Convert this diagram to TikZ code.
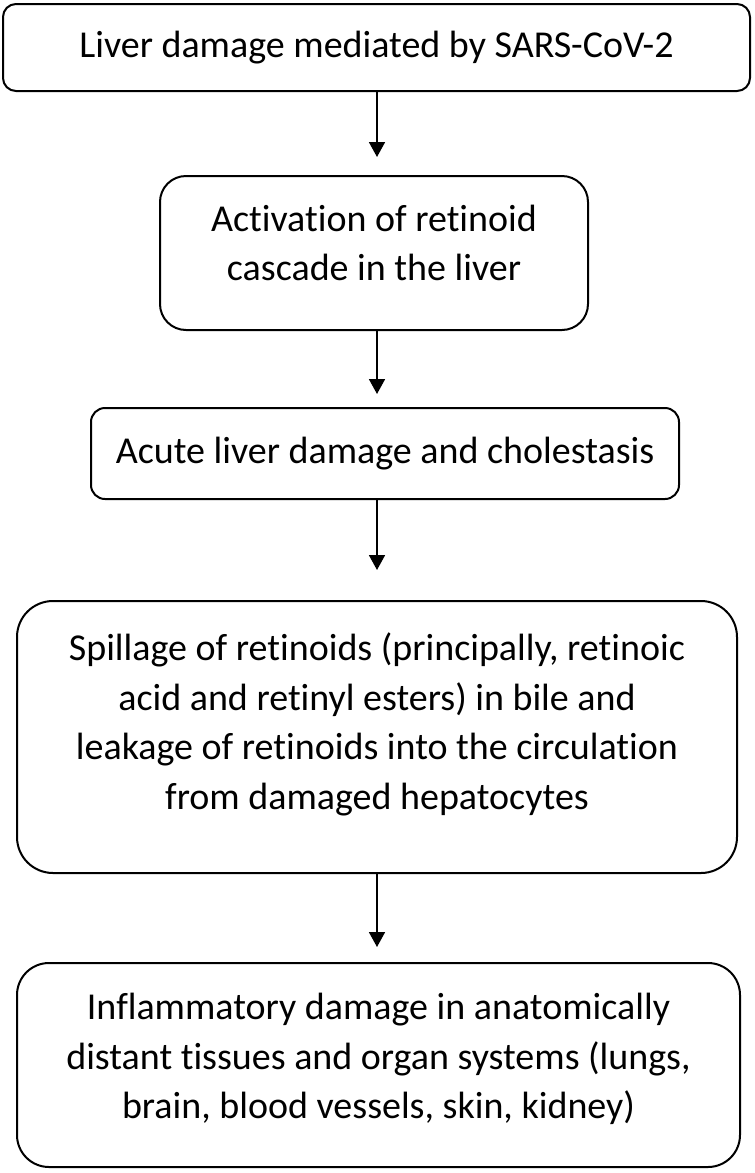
\documentclass[tikz,border=0pt]{standalone}
\usepackage{fontspec}
\setmainfont{Carlito}[Ligatures=CommonOff]
\usepackage{tikz}
\usetikzlibrary{arrows.meta}
\newcommand{\padlow}[1]{\rule[-#1pt]{0pt}{#1pt}}

\begin{document}
\begin{tikzpicture}[x=1pt, y=-1pt,
	box/.style={draw, line width=2pt, rounded corners=#1, inner sep=0pt, align=center, font=\fontsize{38}{49.5}\selectfont},
	arr/.style={line width=1.8pt, -{Triangle[width=16pt,length=15pt]}}]
\useasboundingbox (0,0) rectangle (755,1173);
\coordinate (spine) at (377,0);

\node[box=13, minimum width=747, minimum height=87] (liver) at (376.5,47.5) {Liver damage mediated by SARS-CoV-2};
\node[box=26, minimum width=428, minimum height=154] (cascade) at (374,253) {Activation of retinoid\\cascade in the liver\padlow{20}};
\node[box=14, minimum width=588, minimum height=91] (acute) at (385,453.5) {Acute liver damage and cholestasis};
\node[box=36, minimum width=720, minimum height=272] (spill) at (377,737) {Spillage of retinoids (principally, retinoic\\acid and retinyl esters) in bile and\\leakage of retinoids into the circulation\\from damaged hepatocytes\padlow{32}};
\node[box=32, minimum width=723, minimum height=204] (inflam) at (378.5,1065) {Inflammatory damage in anatomically\\distant tissues and organ systems (lungs,\\brain, blood vessels, skin, kidney)\padlow{18}};

\foreach \a/\b/\g in {liver/cascade/18, cascade/acute/13, acute/spill/30, spill/inflam/15}
	\draw[arr, shorten >=\g pt] (\a.south -| spine) -- (\b.north -| spine);
\end{tikzpicture}
\end{document}
